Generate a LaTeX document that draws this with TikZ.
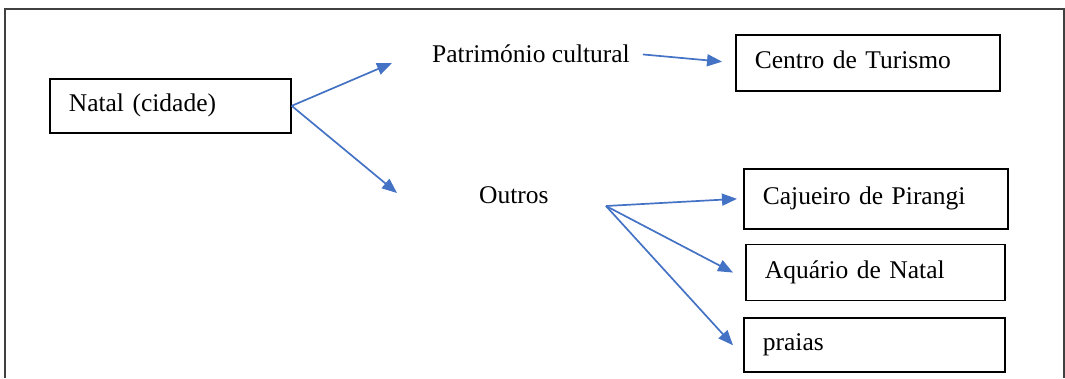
\documentclass[tikz,border=0pt]{standalone}
\usepackage{fontspec}
\setmainfont{Liberation Serif}
\usetikzlibrary{arrows.meta, positioning}
\definecolor{arrowblue}{RGB}{68,114,196}

\begin{document}
\begin{tikzpicture}[x=1pt, y=-1pt, node distance=14pt,
    every node/.style={font=\fontsize{25.5}{30}\selectfont},
    box/.style={draw, line width=1.7pt, inner xsep=19pt, inner ysep=0pt, align=left, text height=17pt, text depth=6pt},
    link/.style={arrowblue, line width=1.7pt, -{Triangle[length=15pt, width=12pt]}}]
    \useasboundingbox (0,0) rectangle (1065,378);
    \draw[line width=1.5pt, black!75] (5,378) -- (5,9) -- (1064,9) -- (1064,378);

    \node[box, anchor=north west, text width=203pt, minimum height=54pt] (Nat) at (49,78) {Natal (cidade)};
    \node[anchor=base west, inner sep=0pt] (Pat) at (432,62) {Património cultural};
    \node[anchor=base west, inner sep=0pt] (Out) at (479,203) {Outros};
    \node[box, anchor=north west, text width=226pt, minimum height=56pt] (Cen) at (735,34) {Centro de Turismo};
    \node[box, anchor=north west, text width=226pt, minimum height=60pt] (Caj) at (743,168) {Cajueiro de Pirangi};
    \node[box, below=of Caj.south west, anchor=north west, xshift=2pt, text width=221pt, minimum height=56pt] (Aqu) {Aquário de Natal};
    \node[box, below=16pt of Aqu.south west, anchor=north west, xshift=-2pt, text width=223pt, minimum height=54pt] (Pra) {praias};

    \coordinate (patTip) at (392,63);
    \coordinate (outTip) at (397,193);
    \coordinate (fan) at (606,206);

    \draw[link] (Nat.east) -- (patTip);
    \draw[link] (Nat.east) -- (outTip);
    \draw[link, shorten <=13pt, shorten >=13pt] (Pat.east) -- (Cen.west);
    \draw[link] (fan) -- ([xshift=-6pt]Caj.west);
    \draw[link] (fan) -- ([xshift=-12pt]Aqu.west);
    \draw[link] (fan) -- ([xshift=-10pt]Pra.west);
\end{tikzpicture}
\end{document}
